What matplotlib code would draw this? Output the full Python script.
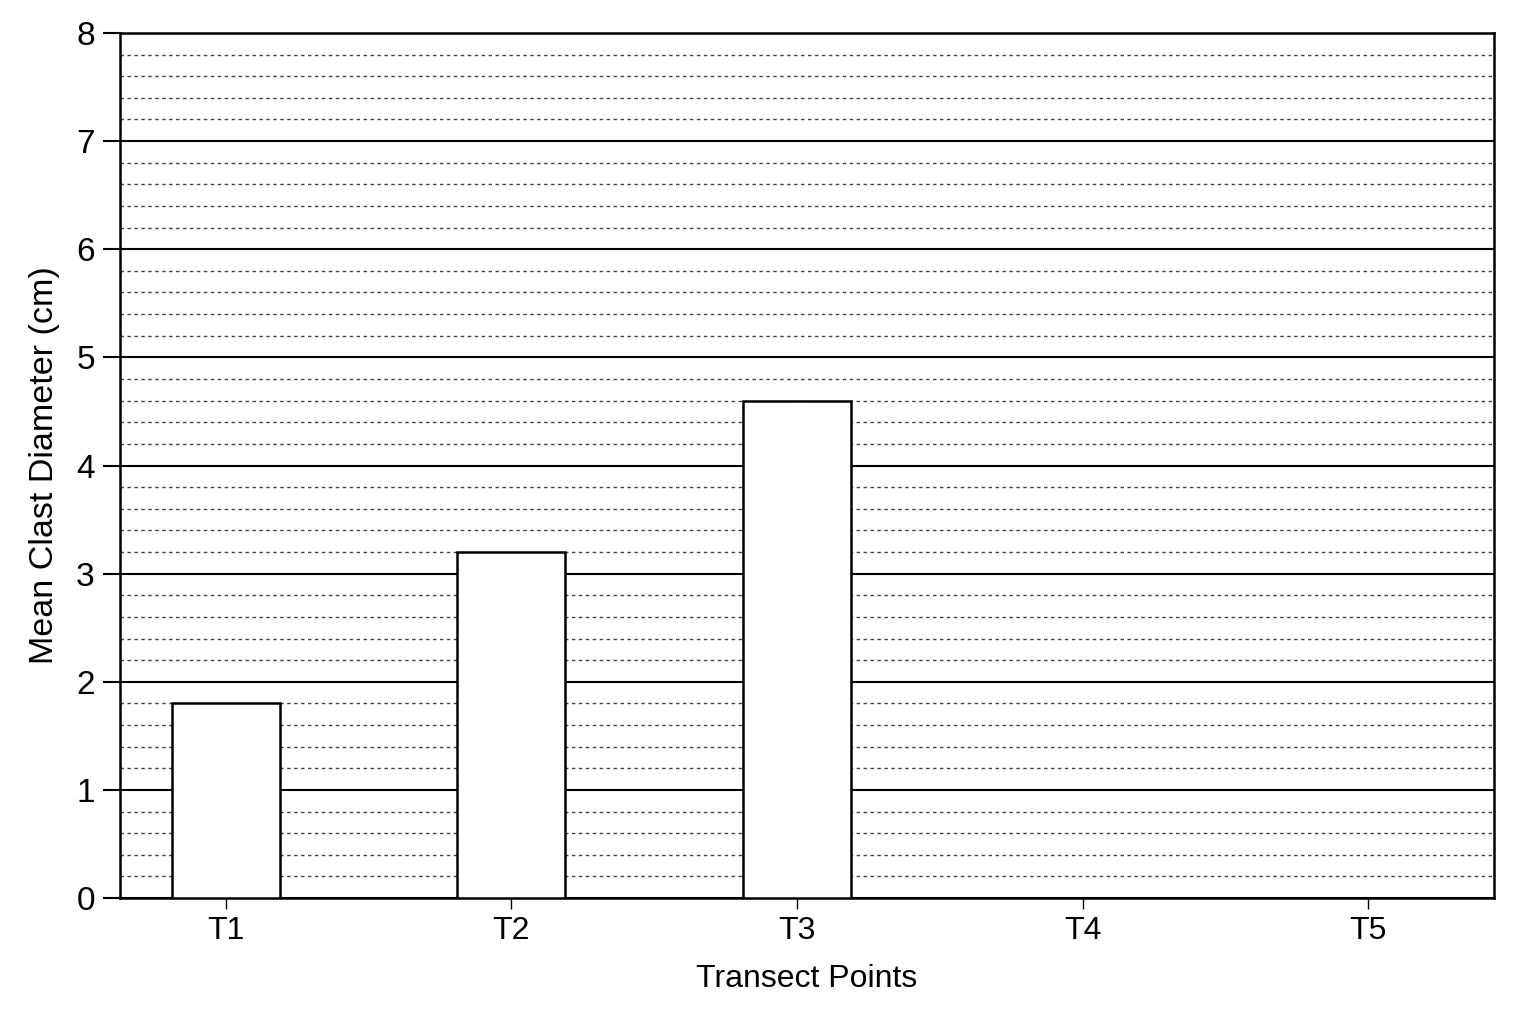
import matplotlib
matplotlib.use("Agg")
import matplotlib.pyplot as plt
from matplotlib.ticker import MultipleLocator
import numpy as np

categories = ["T1", "T2", "T3", "T4", "T5"]
values = [1.8, 3.2, 4.6, 0.0, 0.0]
y_ticks = [0, 1, 2, 3, 4, 5, 6, 7, 8]

plt.rcParams['font.family'] = ['Liberation Sans', 'DejaVu Sans']

fig = plt.figure(figsize=(15.36, 10.24), dpi=100)
ax = fig.add_axes([0.078, 0.123, 0.8947, 0.8448])

x = np.arange(len(categories))
ax.bar(x, values, width=0.378, facecolor='white', edgecolor='black',
       linewidth=1.8, zorder=3)

ax.set_xlim(-0.371, 4.441)
ax.set_ylim(0, 8)
ax.set_yticks(y_ticks)
ax.yaxis.set_minor_locator(MultipleLocator(0.2))
ax.set_xticks(x)
ax.set_xticklabels(categories)

ax.grid(which='major', axis='y', color='black', linewidth=1.5, zorder=1)
ax.grid(which='minor', axis='y', color='#444444', linewidth=1.0,
        linestyle=(0, (2.5, 2.5)), zorder=1)
ax.set_axisbelow(True)

for s in ax.spines.values():
    s.set_linewidth(1.8)
    s.set_color('black')

ax.tick_params(axis='y', which='major', length=12, width=1.5, labelsize=24, pad=6)
ax.tick_params(axis='y', which='minor', length=0)
ax.tick_params(axis='x', which='major', length=8, width=1.0, labelsize=23, pad=5)

ax.set_xlabel("Transect Points", fontsize=23, labelpad=13)
ax.set_ylabel("Mean Clast Diameter (cm)", fontsize=24.5, labelpad=12)

fig.savefig("out.png", dpi=100, facecolor='white')
